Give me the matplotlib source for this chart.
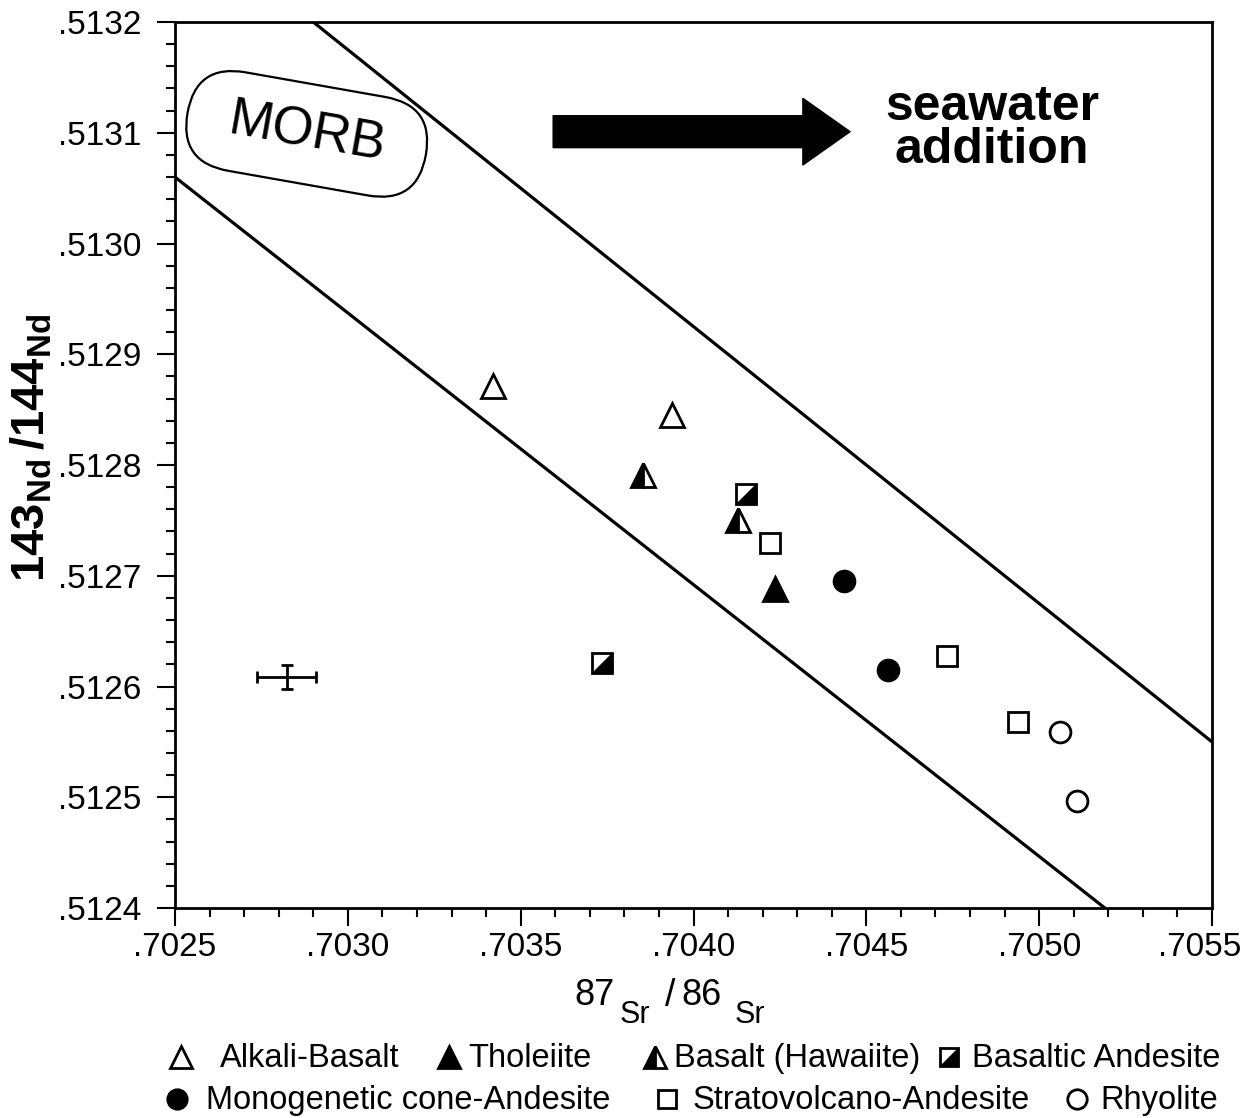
import numpy as np
import matplotlib
matplotlib.use("Agg")
import matplotlib.pyplot as plt
from matplotlib.path import Path
from matplotlib.patches import FancyBboxPatch
from matplotlib.transforms import Affine2D, ScaledTranslation
from matplotlib.ticker import MultipleLocator, FuncFormatter

plt.rcParams['font.family'] = ['Liberation Sans', 'DejaVu Sans']
plt.rcParams['mathtext.fontset'] = 'custom'
plt.rcParams['mathtext.rm'] = 'Liberation Sans'
plt.rcParams['mathtext.bf'] = 'Liberation Sans:bold'

# values (87Sr/86Sr, 143Nd/144Nd)
alkali_sr = [0.703421, 0.703939]
alkali_nd = [0.512871, 0.512845]
thol_sr = [0.704236]
thol_nd = [0.512688]
hawaiite_sr = [0.703854, 0.704130]
hawaiite_nd = [0.512791, 0.512750]
basand_sr = [0.703735, 0.704152]
basand_nd = [0.512621, 0.512774]
mono_sr = [0.704435, 0.704564]
mono_nd = [0.512695, 0.512615]
strato_sr = [0.704220, 0.704733, 0.704939]
strato_nd = [0.512730, 0.512628, 0.512568]
rhyo_sr = [0.705060, 0.705110]
rhyo_nd = [0.512559, 0.512497]

# mantle array boundaries
lower_sr = [0.7025, 0.70519]
lower_nd = [0.51306, 0.5124]
upper_sr = [0.70290, 0.7055]
upper_nd = [0.5132, 0.51255]

# typical analytical error
err_sr, err_nd = 0.702824, 0.512609
err_dsr, err_dnd = 0.0000853, 0.0000108

legend_labels = ['Alkali-Basalt', 'Tholeiite', 'Basalt (Hawaiite)', 'Basaltic Andesite',
                 'Monogenetic cone-Andesite', 'Stratovolcano-Andesite', 'Rhyolite']

# lower-right half of a square, for the basaltic andesite symbol
half_sq = Path([(-1, -1), (1, -1), (1, 1), (-1, -1)],
               [Path.MOVETO, Path.LINETO, Path.LINETO, Path.CLOSEPOLY])


def draw(axis, xs, ys, kind, big=True):
    tri = 17 if big else 16
    sq = 14.5 if big else 13.5
    circ = 15 if big else 14
    kw = dict(ls='none', mec='black', mew=2, zorder=5)
    if kind == 'alkali':
        axis.plot(xs, ys, marker='^', ms=tri, mfc='white', **kw)
    elif kind == 'thol':
        axis.plot(xs, ys, marker='^', ms=tri, mfc='black', **kw)
    elif kind == 'hawaiite':
        axis.plot(xs, ys, marker='^', ms=tri, mfc='black', fillstyle='left',
                  markerfacecoloralt='white', **kw)
    elif kind == 'basand':
        axis.plot(xs, ys, marker='s', ms=sq, mfc='white', **kw)
        axis.plot(xs, ys, marker=half_sq, ms=sq, mfc='black', ls='none', mec='black',
                  mew=1, zorder=6)
    elif kind == 'mono':
        axis.plot(xs, ys, marker='o', ms=circ, mfc='black', **kw)
    elif kind == 'strato':
        axis.plot(xs, ys, marker='s', ms=sq, mfc='white', **kw)
    elif kind == 'rhyo':
        axis.plot(xs, ys, marker='o', ms=circ, mfc='white', **kw)


fig = plt.figure(figsize=(12.49, 11.18), dpi=100)
ax = fig.add_axes([0.1401, 0.1878, 0.8303, 0.7925])
ax.set_xlim(0.7025, 0.7055)
ax.set_ylim(0.5124, 0.5132)

ax.plot(lower_sr, lower_nd, color='black', lw=2.3, solid_capstyle='butt')
ax.plot(upper_sr, upper_nd, color='black', lw=2.3, solid_capstyle='butt')

draw(ax, alkali_sr, alkali_nd, 'alkali')
draw(ax, thol_sr, thol_nd, 'thol')
draw(ax, hawaiite_sr, hawaiite_nd, 'hawaiite')
draw(ax, basand_sr, basand_nd, 'basand')
draw(ax, mono_sr, mono_nd, 'mono')
draw(ax, strato_sr, strato_nd, 'strato')
draw(ax, rhyo_sr, rhyo_nd, 'rhyo')

ax.errorbar([err_sr], [err_nd], xerr=[err_dsr], yerr=[err_dnd], fmt='none',
            ecolor='black', elinewidth=2, capsize=4.5, capthick=2)

# MORB field (stadium drawn in pixels, rotated)
morb_x, morb_y = 0.702881, 0.513099
stadium = FancyBboxPatch((-121, -50), 242, 100, boxstyle='round,pad=0,rounding_size=50',
                         fc='none', ec='black', lw=1.6,
                         transform=Affine2D().rotate_deg(-10) + ScaledTranslation(morb_x, morb_y, ax.transData))
ax.add_patch(stadium)
ax.text(morb_x, morb_y, 'MORB', fontsize=38, rotation=-10, rotation_mode='anchor',
        ha='center', va='center')

ax.annotate('', xy=(0.704453, 0.513101), xytext=(0.703594, 0.513101),
            arrowprops=dict(arrowstyle='simple,head_length=34,head_width=48,tail_width=23',
                            mutation_scale=1, fc='black', ec='black', shrinkA=0, shrinkB=0))
ax.text(0.704864, 0.513104, 'seawater\naddition', fontsize=36, fontweight='bold',
        ha='center', va='center', linespacing=0.9)

ax.xaxis.set_major_locator(MultipleLocator(0.0005))
ax.xaxis.set_minor_locator(MultipleLocator(0.0001))
ax.yaxis.set_major_locator(MultipleLocator(0.0001))
ax.yaxis.set_minor_locator(MultipleLocator(0.00002))
fmt = FuncFormatter(lambda v, p: f'{v:.4f}'[1:])
ax.xaxis.set_major_formatter(fmt)
ax.yaxis.set_major_formatter(fmt)
ax.tick_params(which='both', direction='out', top=False, right=False, width=1.5)
ax.tick_params(which='major', length=13, labelsize=24)
ax.tick_params(which='minor', length=6.5)
ax.tick_params(axis='x', pad=4)
ax.tick_params(axis='y', pad=11)
for s in ax.spines.values():
    s.set_linewidth(2)

# the .7055 label sits a little left of its tick, as in the original
locs = ax.xaxis.get_majorticklocs()
ticks = ax.xaxis.get_major_ticks(len(locs))
i_last = int(np.argmin(np.abs(np.asarray(locs) - 0.7055)))
last = ticks[i_last].label1
last.set_transform(last.get_transform() + ScaledTranslation(-9 / 72, 0, fig.dpi_scale_trans))

ax.set_ylabel(r'$\mathbf{143_{Nd}\,/144_{Nd}}$', fontsize=34, va='center')
ax.yaxis.set_label_coords(-0.138, 0.52)

# overlay in pixel coordinates for the x label and the legend
lax = fig.add_axes([0, 0, 1, 1])
lax.set_xlim(0, 1249)
lax.set_ylim(1118, 0)
lax.axis('off')

# x label: 87Sr/86Sr with large lowered element names
xlab = [('87', 26, 574, 1005), ('Sr', 22, 620, 1023), ('/', 27, 665, 1006),
        ('86', 26, 681, 1005), ('Sr', 22, 735, 1023)]
for txt, size, px, py in xlab:
    lax.text(px, py, txt, fontsize=size, ha='left', va='baseline')

kinds = ['alkali', 'thol', 'hawaiite', 'basand', 'mono', 'strato', 'rhyo']
mark_x = [181, 449, 655, 949, 177, 667, 1077]
text_x = [220, 468, 674, 972, 206, 693, 1100]
row_y = [1057, 1057, 1057, 1057, 1099, 1099, 1099]
for k, lab, mx, tx, ry in zip(kinds, legend_labels, mark_x, text_x, row_y):
    draw(lax, [mx], [ry], k, big=False)
    lax.text(tx, ry + 10, lab, fontsize=23.5, ha='left', va='baseline')

fig.savefig('out.png', dpi=100)
